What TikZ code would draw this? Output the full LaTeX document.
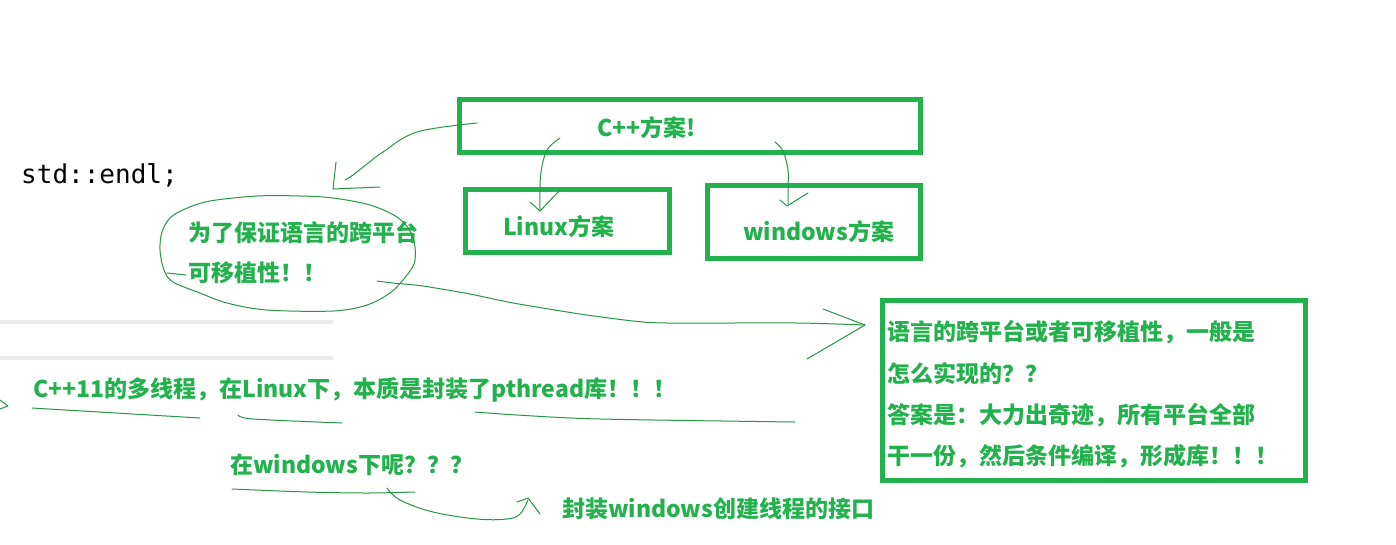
\documentclass[tikz,border=0pt]{standalone}
\usepackage{fontspec}
\newfontfamily\cjk{Noto Sans CJK SC}
\newfontfamily\monofont{DejaVu Sans Mono}
\definecolor{pgreen}{RGB}{34,177,76}
\definecolor{lgreen}{RGB}{40,150,70}
\definecolor{lgrey}{RGB}{236,236,236}
\begin{document}
\begin{tikzpicture}[x=1pt,y=-1pt,
  gbox/.style={draw=pgreen,line width=4.5pt,inner sep=0pt},
  gtext/.style={text=pgreen,font=\cjk\bfseries\fontsize{23}{28}\selectfont,inner sep=0pt,anchor=west},
  hand/.style={draw=lgreen,line width=1pt,line join=round,line cap=round},
]
\useasboundingbox (0,0) rectangle (1396,544);
\fill[white] (0,0) rectangle (1396,544);

% grey editor lines
\fill[lgrey] (0,320) rectangle (333,324);
\fill[lgrey] (0,356) rectangle (333,360);

% code text
\node[anchor=base west,inner sep=0pt,font=\monofont\fontsize{26}{30}\selectfont,text=black] (code) at (21,183) {std::endl;};

% boxes
\node[gbox,minimum width=461pt,minimum height=53pt] (cpp) at (690,126) {};
\node[gbox,minimum width=204pt,minimum height=63pt] (linux) at (567.5,221) {};
\node[gbox,minimum width=213pt,minimum height=73pt] (win) at (814,222) {};
\node[gbox,minimum width=423pt,minimum height=180pt] (rbox) at (1094,390.5) {};

% box texts
\node[gtext] (cpptext) at (597,128) {C++方案!};
\node[gtext] (linuxtext) at (503,227) {Linux方案};
\node[gtext] (wintext) at (743,232) {windows方案};

\node[gtext] (r1) at (887,332) {语言的跨平台或者可移植性，一般是};
\node[gtext] (r2) at (887,373.5) {怎么实现的？？};
\node[gtext] (r3) at (887,415) {答案是：大力出奇迹，所有平台全部};
\node[gtext] (r4) at (887,456.5) {干一份，然后条件编译，形成库！！！};

% ellipse texts
\node[gtext] (e1) at (188,233) {为了保证语言的跨平台};
\node[gtext] (e2) at (188,273) {可移植性！！};

% free texts
\node[gtext] (t1) at (33,390) {C++11的多线程，在Linux下，本质是封装了pthread库！！！};
\node[gtext] (t2) at (230,465) {在windows下呢？？？};
\node[gtext] (t3) at (562,509) {封装windows创建线程的接口};

% hand-drawn ellipse
\draw[hand] plot[smooth cycle,tension=0.55] coordinates {
  (257,196) (300,196) (333,198) (370,205) (397,217) (410,231) (415,247)
  (414,264) (403,280) (390,293) (367,305) (333,311) (267,310) (227,303)
  (200,293) (173,282) (164,270) (160,250) (162,232) (170,218) (185,209)
  (210,201)};
\draw[hand] (167,273) -- (186,275);

% connector: C++ box -> left
\coordinate (a1s) at (477,123);
\coordinate (a1e) at (345,180);
\draw[hand] plot[smooth,tension=0.6] coordinates {(a1s) (417,132) (383,152) (367,164) (353,175) (a1e)};
\draw[hand] (336,162) -- (333,189) -- (380,187);

% connector: C++ -> Linux
\coordinate (a2s) at (560,138);
\coordinate (a2e) at (540,210);
\draw[hand] plot[smooth,tension=0.6] coordinates {(a2s) (547,150) (541,172) (540,192) (a2e)};
\draw[hand] (530,202) -- (540,211) -- (560,190);

% connector: C++ -> windows
\coordinate (a3s) at (775,142);
\coordinate (a3e) at (788,204);
\draw[hand] plot[smooth,tension=0.6] coordinates {(a3s) (783,151) (788,170) (788,188) (a3e)};
\draw[hand] (780,200) -- (787,206) -- (808,193);

% connector: ellipse -> right box
\coordinate (a4s) at (377,281);
\coordinate (a4e) at (865,325);
\draw[hand] plot[smooth,tension=0.4] coordinates {(a4s) (393,283) (423,286) (470,294) (513,303) (580,314) (633,321) (667,323) (797,323) (a4e)};
\draw[hand] (823,309) -- (a4e) -- (807,359);

% small chevron at left edge
\draw[hand] (0,400) -- (8,406) -- (0,409);

% underlines of t1
\draw[hand] (32,408) -- (200,418);
\draw[hand] plot[smooth,tension=0.5] coordinates {(238,415) (253,419) (342,423)};
\draw[hand] plot[smooth,tension=0.5] coordinates {(475,412) (517,415) (600,419) (795,422)};

% underline of t2 and curved connector to t3
\draw[hand] plot[smooth,tension=0.5] coordinates {(232,489) (307,492) (367,493) (415,492)};
\coordinate (a5s) at (387,488);
\coordinate (a5e) at (528,500);
\draw[hand] plot[smooth,tension=0.6] coordinates {(a5s) (400,500) (433,512) (477,519) (507,519) (520,514) (a5e)};
\draw[hand] (517,502) -- (528,498) -- (540,514);
\end{tikzpicture}
\end{document}
